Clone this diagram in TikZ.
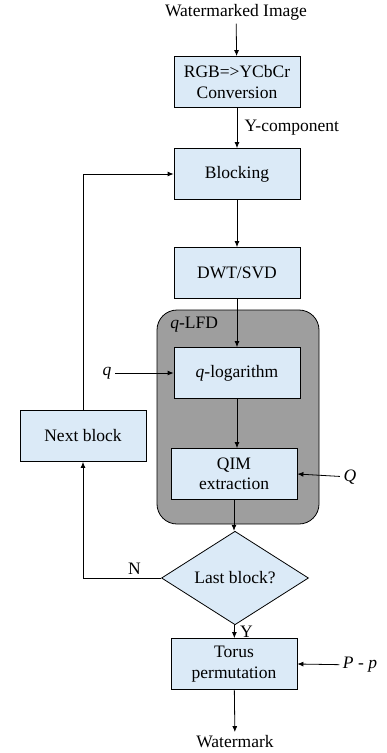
\documentclass[tikz,border=0pt]{standalone}
\usepackage{fontspec}
\setmainfont{Liberation Serif}
\usetikzlibrary{shapes.geometric,arrows.meta}
\definecolor{boxblue}{RGB}{219,234,247}
\definecolor{lfdgray}{RGB}{158,158,158}

\begin{document}
\begin{tikzpicture}[x=1pt,y=-1pt, line width=0.8pt, >={Latex[length=6pt,width=5pt]},
	every node/.style={font=\fontsize{17.5}{20.5}\selectfont},
	box/.style={draw, fill=boxblue, minimum width=126pt, minimum height=51pt, align=center, inner sep=1pt},
	decision/.style={draw, fill=boxblue, diamond, minimum width=147pt, minimum height=61pt, inner sep=0pt},
	lfdbox/.style={draw, fill=lfdgray, rounded corners=20pt, minimum width=162pt, minimum height=214pt}]
	\useasboundingbox (0,0) rectangle (386,753);
	\node[lfdbox] (lfd) at (238,417) {};
	\node[anchor=north west] (lfdname) at ([xshift=10pt,yshift=-4pt]lfd.north west) {\textit{q}-LFD};

	\node (src) at (236,12) {Watermarked Image};
	\node[box] (rgb) at (237,82) {RGB=>YCbCr\\Conversion};
	\node[box] (blk) at (237,174) {Blocking};
	\node[box] (dwt) at (237,273) {DWT/SVD};
	\node[box] (qlog) at (237,373) {\textit{q}-logarithm};
	\node[box] (qim) at (234,474) {QIM\\extraction};
	\node[decision] (last) at (235,578) {Last block?};
	\node[box] (torus) at (234,664) {Torus\\permutation};
	\node (wm) at (235,742) {Watermark};
	\node[box] (next) at (83,436) {Next block};

	\node (qin) at (107,373) {\textit{q}};
	\node (Qin) at (350,477) {\textit{Q}};
	\node (Pp) at (360,665) {\textit{P} - \textit{p}};

	\draw[->] (src) -- (rgb);
	\draw[->] (rgb) -- node[right, xshift=4pt] {Y-component} (blk);
	\draw[->] (blk) -- (dwt);
	\draw[->] (dwt) -- (qlog);
	\draw[->] (qlog.south) -- (qlog.south |- qim.north);
	\draw[->] (qim.south) -- (qim.south |- last.north);
	\draw[->] (last) -- node[right, xshift=2pt] {Y} (torus);
	\draw[->] (torus) -- (wm);
	\draw[->] (last.west) -| node[pos=0.17, above] {N} (next.south);
	\draw[->] (next.north) |- (blk.west);
	\draw[->] (qin) -- (qlog.west);
	\draw[->] (Qin) -- (qim.east);
	\draw[->] (Pp) -- (torus.east);
\end{tikzpicture}
\end{document}
